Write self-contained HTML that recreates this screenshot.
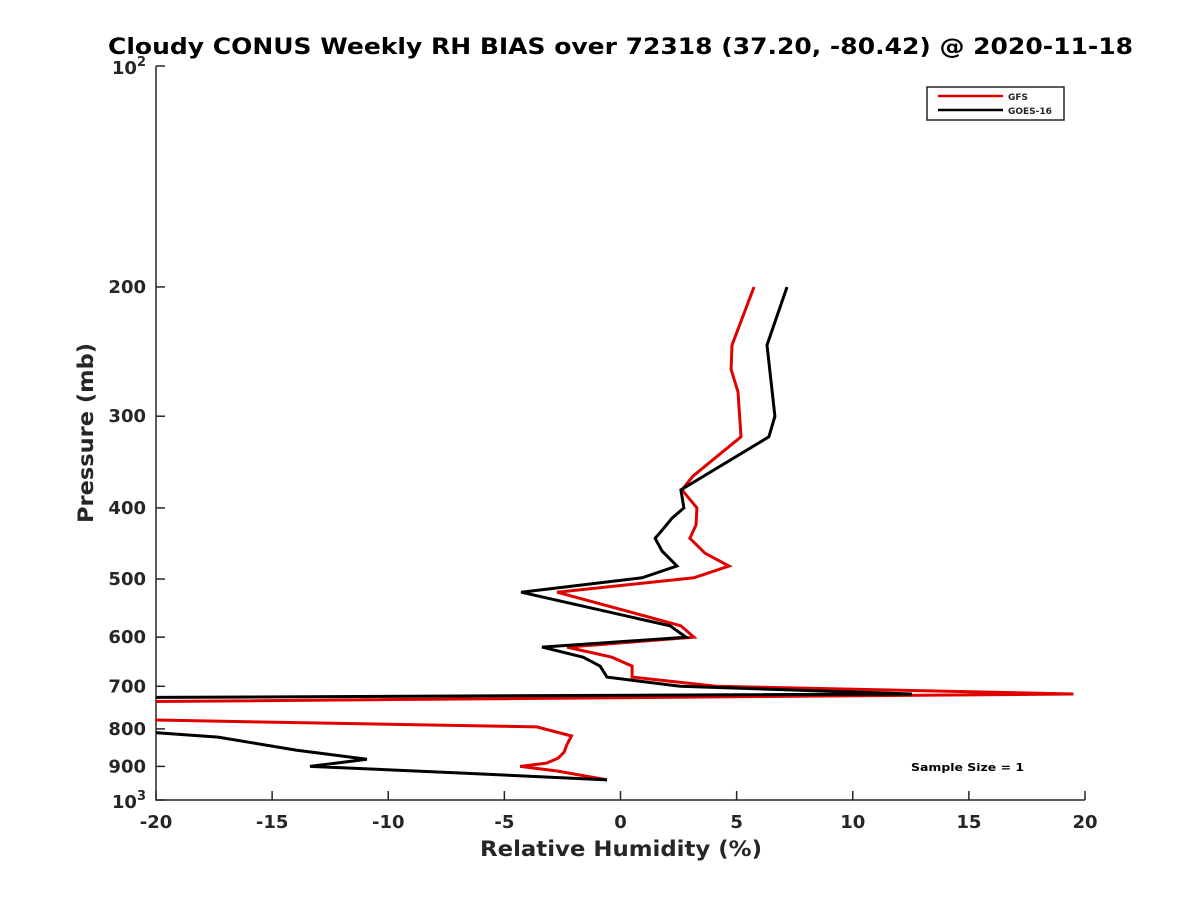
<!DOCTYPE html>
<html><head><meta charset="utf-8"><style>
body{margin:0;background:#fff;}
svg text{font-family:"DejaVu Sans","Liberation Sans",sans-serif;font-weight:bold;fill:#262626;}
</style></head><body>
<svg id="chart" width="1200" height="900" xmlns="http://www.w3.org/2000/svg">
<defs><clipPath id="plotclip"><rect x="156" y="66" width="929" height="734"/></clipPath></defs>
<rect width="1200" height="900" fill="#fff"/>
<text x="108" y="54" font-size="22" textLength="1025" lengthAdjust="spacingAndGlyphs" style="fill:#000">Cloudy CONUS Weekly RH BIAS over 72318 (37.20, -80.42) @ 2020-11-18</text>
<g id="axes"></g>
<g id="series" clip-path="url(#plotclip)"></g>
<text x="480" y="856" font-size="21" textLength="282" lengthAdjust="spacingAndGlyphs">Relative Humidity (%)</text>
<text transform="translate(93,523) rotate(-90)" font-size="21" textLength="180" lengthAdjust="spacingAndGlyphs">Pressure (mb)</text>
<g>
<rect x="927" y="87" width="137" height="33" fill="#fff" stroke="#262626" stroke-width="1.5"/>
<line x1="938" y1="96" x2="1003" y2="96" stroke="#e00000" stroke-width="2.5"/>
<line x1="938" y1="110" x2="1003" y2="110" stroke="#000" stroke-width="2.5"/>
<text x="1008" y="100" font-size="9">GFS</text>
<text x="1008" y="114" font-size="9">GOES-16</text>
</g>
<text x="911" y="771" font-size="11" textLength="113" lengthAdjust="spacingAndGlyphs" style="fill:#000">Sample Size = 1</text>
</svg>
<script>
const xTicks = [-20,-15,-10,-5,0,5,10,15,20];
const yTicks = [200,300,400,500,600,700,800,900];
const gfsPressure = [200,240,259,278,320,362,378,400,422,440,461,480,498,521,579,600,619,639,657,680,700,717,743,758,795,818,842,861,877,891,900,913,939];
const gfsValues = [5.75,4.80,4.76,5.06,5.19,3.12,2.65,3.29,3.25,2.99,3.64,4.67,3.16,-2.73,2.60,3.16,-2.30,-0.37,0.50,0.50,4.12,19.5,-40,-40,-3.60,-2.11,-2.32,-2.43,-2.69,-3.20,-4.32,-2.73,-0.58];
const goesPressure = [200,240,300,320,378,400,413,429,440,458,480,498,521,579,600,619,639,657,680,700,717,726,790,810,821,855,880,900,919,939];
const goesValues = [7.17,6.31,6.65,6.39,2.60,2.73,2.22,1.79,1.49,1.79,2.43,0.93,-4.28,2.13,2.82,-3.38,-1.61,-0.88,-0.58,2.56,12.55,-25,-25,-19.96,-17.33,-13.97,-10.92,-13.37,-6.78,-0.58];

const NS='http://www.w3.org/2000/svg';
const X0=156,X1=1085,Y0=66,Y1=800;
const xs=v=>X0+(v+20)/40*(X1-X0);
const ys=p=>Y0+(Math.log10(p)-2)*(Y1-Y0);
function mk(tag,attrs,parent){const e=document.createElementNS(NS,tag);for(const k in attrs)e.setAttribute(k,attrs[k]);parent.appendChild(e);return e;}
const axes=document.getElementById('axes');
const ax=mk('path',{d:`M${X0},${Y0}V${Y1}H${X1}`,fill:'none',stroke:'#262626','stroke-width':1.5},axes);


xTicks.forEach(t=>{
  const x=xs(t);
  const l=mk('line',{x1:x,x2:x,y1:Y1,y2:Y1-9,stroke:'#262626','stroke-width':1.5},axes);
  
  
  const tx=mk('text',{x:x,y:Y1+28,'text-anchor':'middle','font-size':18},axes);
  tx.textContent=t;
  
  
});
yTicks.concat([100,1000]).forEach(t=>{
  const y=ys(t);
  const l=mk('line',{x1:X0,x2:X0+9,y1:y,y2:y,stroke:'#262626','stroke-width':1.5},axes);
  
  
});
yTicks.forEach(t=>{
  const tx=mk('text',{x:X0-10,y:ys(t)+6,'text-anchor':'end','font-size':18},axes);
  tx.textContent=t;
  
  
});
[[100,'2'],[1000,'3']].forEach(([p,e])=>{
  const tx=mk('text',{x:X0-10,y:ys(p)+8,'text-anchor':'end','font-size':18},axes);
  tx.innerHTML='10<tspan dy="-8" font-size="13">'+e+'</tspan>';
  
  
});
const series=document.getElementById('series');
function line(vals,pres,color,name){
  const d=vals.map((v,i)=>(i?'L':'M')+xs(v).toFixed(1)+','+ys(pres[i]).toFixed(1)).join('');
  const p=mk('path',{d:d,fill:'none',stroke:color,'stroke-width':3,'stroke-linejoin':'miter'},series);
  
  
}
line(gfsValues,gfsPressure,'#e00000','gfs-line');
line(goesValues,goesPressure,'#000','goes16-line');
</script>
</body></html>
